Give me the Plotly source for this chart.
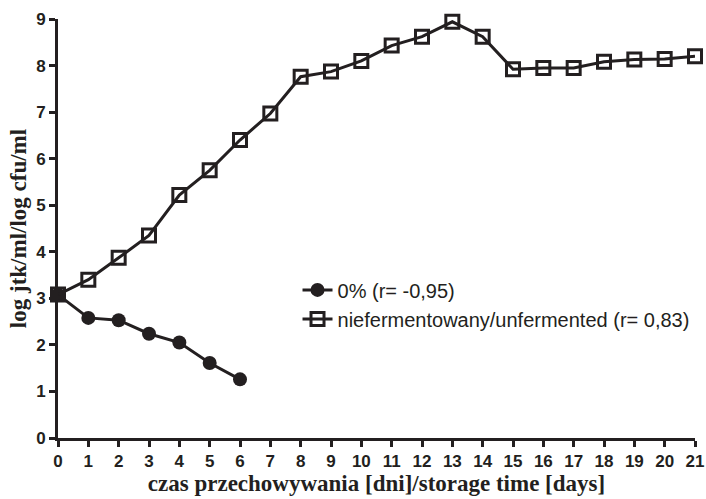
import plotly.graph_objects as go

days_a = [0, 1, 2, 3, 4, 5, 6]
vals_a = [3.08, 2.58, 2.53, 2.24, 2.05, 1.61, 1.26]
days_b = list(range(0, 22))
vals_b = [3.08, 3.40, 3.87, 4.35, 5.22, 5.75, 6.40, 6.97, 7.76, 7.87, 8.10,
          8.43, 8.62, 8.94, 8.62, 7.92, 7.95, 7.95, 8.08, 8.13, 8.14, 8.20]
name_a = "0% (r= -0,95)"
name_b = "niefermentowany/unfermented (r= 0,83)"
x_ticks = list(range(0, 22))
y_ticks = list(range(0, 10))

col = "#231f20"
fig = go.Figure()
fig.add_trace(go.Scatter(x=days_a, y=vals_a, name=name_a, mode="lines+markers",
                         line=dict(color=col, width=3),
                         marker=dict(symbol="circle", size=14, color=col),
                         cliponaxis=False))
fig.add_trace(go.Scatter(x=days_b, y=vals_b, name=name_b, mode="lines+markers",
                         line=dict(color=col, width=3),
                         marker=dict(symbol="square-open", size=13, color=col,
                                     line=dict(width=3, color=col)),
                         cliponaxis=False))

axis_common = dict(showline=True, linewidth=3, linecolor=col, ticks="outside",
                   tickwidth=3, ticklen=6, tickcolor=col, showgrid=False,
                   zeroline=False, automargin=False,
                   tickfont=dict(family="Liberation Sans, Arial", size=17, color=col))
title_font = dict(family="Liberation Serif, Times New Roman", size=23, color=col)
fig.update_xaxes(range=[0, 21], tickvals=x_ticks,
                 ticktext=["<b>%d</b>" % t for t in x_ticks],
                 title=dict(text="<b>czas przechowywania [dni]/storage time [days]</b>",
                            font=title_font, standoff=2),
                 **axis_common)
fig.update_yaxes(range=[0, 9], tickvals=y_ticks,
                 ticktext=["<b>%d</b>" % t for t in y_ticks],
                 title=dict(text="<b>log jtk/ml/log cfu/ml</b>",
                            font=title_font, standoff=4),
                 **axis_common)
fig.update_layout(width=706, height=499, plot_bgcolor="white", paper_bgcolor="white",
                  margin=dict(l=58, r=11, t=19, b=61),
                  legend=dict(x=0.376, y=0.40, xanchor="left", yanchor="top",
                              font=dict(family="Liberation Sans, Arial", size=20, color=col),
                              bgcolor="rgba(0,0,0,0)", tracegroupgap=0,
                              itemwidth=30))
fig.write_html("out.html", config={"displayModeBar": False},
               post_script="document.body.style.margin='0';")
